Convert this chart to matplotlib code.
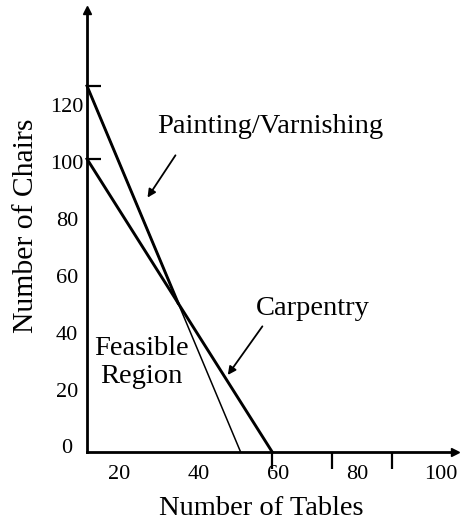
import numpy as np
import matplotlib
matplotlib.use("Agg")
import matplotlib.pyplot as plt
from matplotlib.transforms import offset_copy

plt.rcParams['font.family'] = ['Liberation Serif', 'DejaVu Serif']

# constraint lines (end points)
painting_x = [12, 50.4]
painting_y = [128.8, 0]
carpentry_x = [12, 58.3]
carpentry_y = [103.1, 0]

x_label_vals = [20, 40, 59.75, 79.5, 100.5]
x_labels = ["20", "40", "60", "80", "100"]
y_label_vals = [0, 20, 40, 60, 80, 100, 120]
y_labels = ["0", "20", "40", "60", "80", "100", "120"]
x_marks = [58.3, 73.25, 88.25]

fig = plt.figure(figsize=(4.63, 5.23), dpi=100)
ax = fig.add_axes([0.1879, 0.1358, 0.7948, 0.845])
ax.set_xlim(12, 104)
ax.set_ylim(0, 155.5)

for s in ['top', 'right']:
    ax.spines[s].set_visible(False)
for s in ['left', 'bottom']:
    ax.spines[s].set_linewidth(2)

# arrows at the axis ends
ax.plot(1, 0, marker='>', ms=6, color='k', transform=ax.get_yaxis_transform(), clip_on=False)
ax.plot(12, 1, marker='^', ms=6, color='k', transform=ax.get_xaxis_transform(), clip_on=False)

# tick marks
ax.set_yticks([painting_y[0], carpentry_y[0]])
ax.set_yticklabels([])
ax.tick_params(axis='y', direction='in', length=10, width=1.6)
ax.set_xticks(x_marks)
ax.set_xticklabels([])
ax.tick_params(axis='x', direction='out', length=12, width=1.6)
ax.set_xticks(x_marks[1:], minor=True)
ax.tick_params(axis='x', which='minor', direction='in', length=3.5, width=1.6)

# labels
for v, t in zip(x_label_vals, x_labels):
    ax.text(v, -8, t, ha='center', va='center', fontsize=16, clip_on=False)
ytr = offset_copy(ax.transData, fig=fig, y=3, units='dots')
for v, t in zip(y_label_vals, y_labels):
    ax.text(7, v, t, ha='center', va='center', fontsize=16, transform=ytr, clip_on=False)

ax.text(55.5, -22.3, "Number of Tables", ha='center', va='baseline', fontsize=20.5,
        clip_on=False)
fig.text(26 / 463, 1 - 226 / 523, "Number of Chairs", rotation=90, ha='center', va='center',
         fontsize=21.3)

# painting line: thin beyond the corner point
ax.plot(painting_x, painting_y, color='k', lw=1.1, clip_on=False)

# feasible region boundary (thick), carpentry drawn thick all the way
pa = np.polyfit(painting_x, painting_y, 1)
ca = np.polyfit(carpentry_x, carpentry_y, 1)
xi = (ca[1] - pa[1]) / (pa[0] - ca[0])
yi = np.polyval(pa, xi)
ax.plot([painting_x[0], xi], [painting_y[0], yi], color='k', lw=2.1, clip_on=False)
ax.plot(carpentry_x, carpentry_y, color='k', lw=2.1, clip_on=False)

# annotations
ax.annotate("Painting/Varnishing", xy=(26.75, 88.7), xytext=(29.5, 112.2),
            fontsize=20.5, ha='left', va='baseline')
ax.annotate("", xy=(26.75, 88.7), xytext=(34.5, 105.2),
            arrowprops=dict(arrowstyle='-|>', color='k', lw=1.3, mutation_scale=12))
ax.text(68.5, 48.2, "Carpentry", fontsize=20.5, ha='center', va='baseline')
ax.annotate("", xy=(46.8, 26.3), xytext=(56.25, 45.0),
            arrowprops=dict(arrowstyle='-|>', color='k', lw=1.3, mutation_scale=12))
ax.text(25.5, 31.5, "Feasible\nRegion", fontsize=20.5, ha='center', va='center',
        multialignment='center')

fig.savefig("out.png", dpi=100)
